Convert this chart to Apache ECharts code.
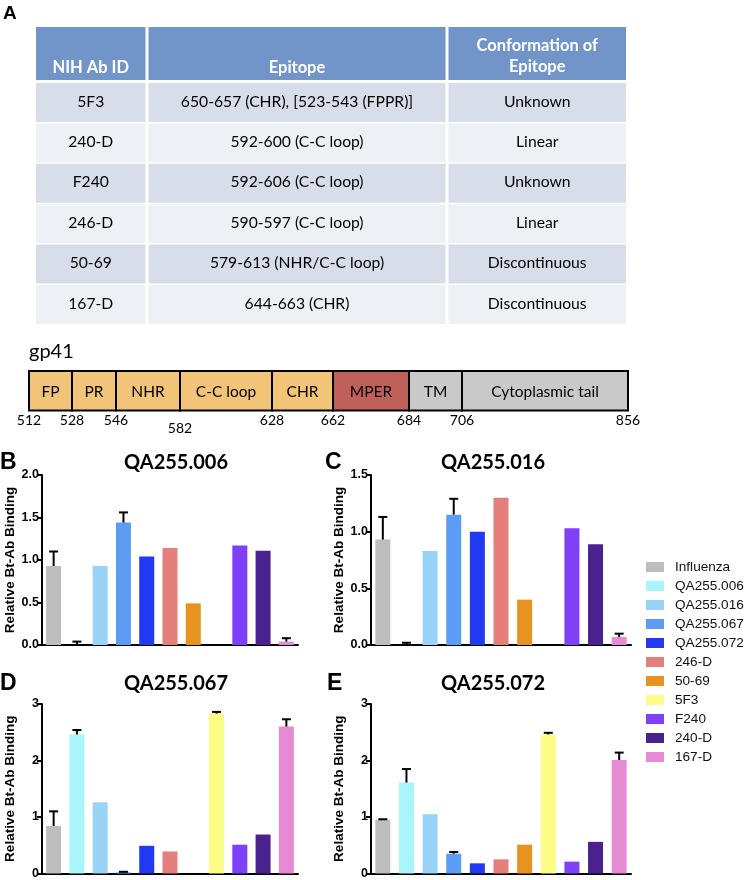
<!DOCTYPE html>
<html><head><meta charset="utf-8">
<script src="https://cdn.jsdelivr.net/npm/echarts@6/dist/echarts.min.js"></script>
<style>html,body{margin:0;padding:0;background:#fff}#c{width:746px;height:880px}</style>
</head><body><div id="c"></div>
<script>
// ---------- DATA ----------
const categories = ['Influenza','QA255.006','QA255.016','QA255.067','QA255.072','246-D','50-69','5F3','F240','240-D','167-D'];

// Panel B: QA255.006
const valuesB = [0.93, 0.00, 0.93, 1.44, 1.04, 1.14, 0.49, 0.00, 1.17, 1.11, 0.04];
const errB    = [0.17, 0.04, null, 0.12, null, null, null, null, null, null, 0.04];
// Panel C: QA255.016
const valuesC = [0.93, 0.00, 0.83, 1.15, 1.00, 1.30, 0.40, 0.00, 1.03, 0.89, 0.07];
const errC    = [0.20, 0.02, null, 0.14, null, null, null, null, null, null, 0.03];
// Panel D: QA255.067
const valuesD = [0.84, 2.46, 1.26, 0.02, 0.49, 0.39, 0.00, 2.83, 0.51, 0.69, 2.60];
const errD    = [0.26, 0.08, null, 0.01, null, null, null, 0.03, null, null, 0.13];
// Panel E: QA255.072
const valuesE = [0.95, 1.61, 1.05, 0.35, 0.18, 0.25, 0.51, 2.46, 0.21, 0.56, 2.01];
const errE    = [0.01, 0.24, null, 0.03, null, null, null, 0.03, null, null, 0.13];

const panelTitles = ['QA255.006','QA255.016','QA255.067','QA255.072'];
const panelLetters = ['B','C','D','E'];
const yMaxes = [2.0, 1.5, 3, 3];
const yIntervals = [0.5, 0.5, 1, 1];
const yAxisName = 'Relative Bt-Ab Binding';

// Table (panel A)
const tableHeader = ['NIH Ab ID', 'Epitope', 'Conformation of\nEpitope'];
const abIds = ['5F3','240-D','F240','246-D','50-69','167-D'];
const epitopes = ['650-657 (CHR), [523-543 (FPPR)]','592-600 (C-C loop)','592-606 (C-C loop)','590-597 (C-C loop)','579-613 (NHR/C-C loop)','644-663 (CHR)'];
const conformations = ['Unknown','Linear','Unknown','Linear','Discontinuous','Discontinuous'];

// gp41 domain schematic
const domainNames = ['FP','PR','NHR','C-C loop','CHR','MPER','TM','Cytoplasmic tail'];
const domainBoundaries = [512,528,546,582,628,662,684,706,856];

// ---------- STYLE / LAYOUT ----------
const barColors = ['#bdbdbd','#a9f6fa','#99d4f8','#5b9df5','#2239f4','#e47f7b','#e8931f','#fdfc85','#8040f7','#4b218f','#e68bd3'];
const domainColors = ['#f2c477','#f2c477','#f2c477','#f2c477','#f2c477','#c0605a','#c9c9c9','#c9c9c9'];
const domainEdgesPx = [29,72,116,180,272,333,409,462,628];
const grids = [
  {left:42, top:475, width:256, height:170},
  {left:371, top:475, width:260, height:170},
  {left:42, top:704, width:256, height:170},
  {left:371, top:704, width:260, height:170}
];
const titlePos = [[176,463],[493,463],[176,684],[493,684]];
const letterPos = [[0,463],[325,463],[0,684],[327,684]];

const allValues = [valuesB, valuesC, valuesD, valuesE];
const allErrs = [errB, errC, errD, errE];

const chart = echarts.init(document.getElementById('c'), null, {renderer:'canvas'});

// ---------- graphics: table, schematic, titles ----------
const graphic = [];
const tFont = 'Lato, "Open Sans", sans-serif';
const colX = [36,147,447,626];
graphic.push({type:'text', left:3, top:4, style:{text:'A', font:'bold 19px "Liberation Sans", Arial', fill:'#000'}});
// header
for (let c=0;c<3;c++){
  const x0 = colX[c] + (c>0?1.5:0), x1 = colX[c+1] - (c<2?1.5:0);
  graphic.push({type:'rect', shape:{x:x0,y:27,width:x1-x0,height:53}, style:{fill:'#7195c8'}});
  const lines = tableHeader[c].split('\n');
  graphic.push({type:'text', x:(x0+x1)/2, y: lines.length>1 ? 56.5 : 68,
    style:{text:tableHeader[c], font:'bold 16.5px '+tFont, fill:'#fff', align:'center', verticalAlign:'middle', lineHeight:21}});
}
const rows = abIds.map((a,i)=>[a, epitopes[i], conformations[i]]);
rows.forEach((r,i)=>{
  const y0 = 83 + i*40.4, h = 38.9;
  for (let c=0;c<3;c++){
    const x0 = colX[c] + (c>0?1.5:0), x1 = colX[c+1] - (c<2?1.5:0);
    graphic.push({type:'rect', shape:{x:x0,y:y0,width:x1-x0,height:h}, style:{fill: i%2===0 ? '#d8dee9' : '#edf0f5'}});
    graphic.push({type:'text', x:(x0+x1)/2, y:y0+h/2-1,
      style:{text:r[c], font:'15.7px '+tFont, fill:'#000', align:'center', verticalAlign:'middle'}});
  }
});
// gp41 schematic
graphic.push({type:'text', x:29, y:352, style:{text:'gp41', font:'20px '+tFont, fill:'#000', verticalAlign:'middle'}});
domainNames.forEach((n,i)=>{
  const x0 = domainEdgesPx[i], x1 = domainEdgesPx[i+1];
  graphic.push({type:'rect', shape:{x:x0,y:371,width:x1-x0,height:39.5}, style:{fill:domainColors[i], stroke:'#000', lineWidth:2}});
  graphic.push({type:'text', x:(x0+x1)/2, y:392, style:{text:n, font:'15.5px '+tFont, fill:'#000', align:'center', verticalAlign:'middle'}});
});
domainBoundaries.forEach((b,i)=>{
  graphic.push({type:'text', x:domainEdgesPx[i], y: b===582 ? 428 : 420,
    style:{text:String(b), font:'14px '+tFont, fill:'#000', align:'center', verticalAlign:'middle'}});
});
// panel titles and letters
for (let k=0;k<4;k++){
  graphic.push({type:'text', x:titlePos[k][0], y:titlePos[k][1], style:{text:panelTitles[k], font:'bold 20px '+tFont, fill:'#000', align:'center', verticalAlign:'middle'}});
  graphic.push({type:'text', x:letterPos[k][0], y:letterPos[k][1], style:{text:panelLetters[k], font:'bold 23px "Liberation Sans", Arial', fill:'#000', verticalAlign:'middle'}});
}

// ---------- axes & series ----------
const axFont = '"Liberation Sans", Arial, sans-serif';
const xAxes = [], yAxes = [], series = [];
for (let k=0;k<4;k++){
  xAxes.push({type:'category', gridIndex:k, data:categories, boundaryGap:true,
    axisLine:{show:true, lineStyle:{color:'#000', width:2}}, axisTick:{show:false}, axisLabel:{show:false}});
  yAxes.push({type:'value', gridIndex:k, min:0, max:yMaxes[k], interval:yIntervals[k],
    name:yAxisName, nameLocation:'middle', nameGap:25,
    nameTextStyle:{fontFamily:axFont, fontWeight:'bold', fontSize:13.5, color:'#000'},
    axisLine:{show:true, lineStyle:{color:'#000', width:2}},
    axisTick:{show:true, length:5, lineStyle:{color:'#000', width:2}},
    axisLabel:{fontFamily:axFont, fontWeight:'bold', fontSize:12.5, color:'#000', margin:3,
      formatter: v => yIntervals[k] < 1 ? v.toFixed(1) : String(v)},
    splitLine:{show:false}});
  categories.forEach((cat,i)=>{
    series.push({type:'bar', name:cat, xAxisIndex:k, yAxisIndex:k, stack:'s'+k, barWidth:15,
      itemStyle:{color:barColors[i]}, animation:false,
      data: categories.map((_,j)=> j===i ? allValues[k][j] : '-')});
  });
  const errData = [];
  allErrs[k].forEach((e,i)=>{ if (e!=null) errData.push([i, allValues[k][i], allValues[k][i]+e]); });
  series.push({type:'custom', xAxisIndex:k, yAxisIndex:k, z:10, animation:false, data:errData,
    renderItem:(params, api)=>{
      const p0 = api.coord([api.value(0), api.value(1)]);
      const p1 = api.coord([api.value(0), api.value(2)]);
      return {type:'group', children:[
        {type:'line', shape:{x1:p0[0],y1:p0[1],x2:p1[0],y2:p1[1]}, style:{stroke:'#000', lineWidth:2}},
        {type:'line', shape:{x1:p1[0]-4.5,y1:p1[1],x2:p1[0]+4.5,y2:p1[1]}, style:{stroke:'#000', lineWidth:2}}
      ]};
    }});
}

chart.setOption({
  animation:false,
  grid: grids,
  xAxis: xAxes,
  yAxis: yAxes,
  legend: {orient:'vertical', left:641, top:555, itemWidth:18, itemHeight:10, itemGap:5,
    icon:'rect', data:categories,
    textStyle:{fontFamily:axFont, fontSize:13.6, color:'#111', padding:[0,0,0,6]}},
  graphic: graphic,
  series: series
});
</script>
</body></html>
